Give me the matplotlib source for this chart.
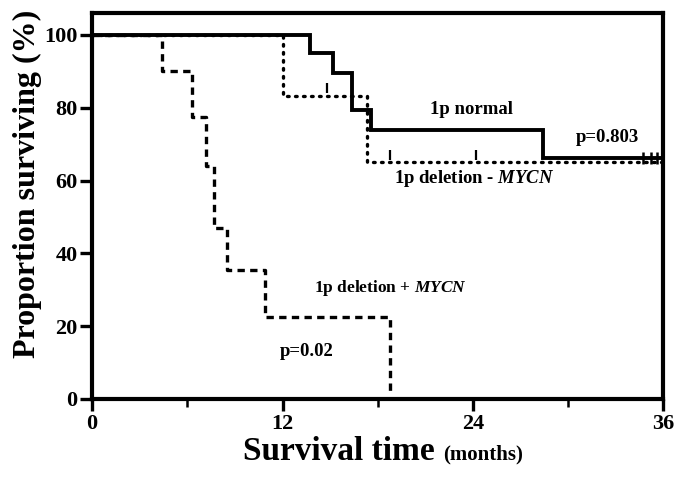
import numpy as np
import matplotlib.pyplot as plt

plt.rcParams['font.family'] = 'Liberation Serif'
plt.rcParams['font.weight'] = 'bold'
plt.rcParams['mathtext.fontset'] = 'custom'
plt.rcParams['mathtext.it'] = 'Liberation Serif:italic:bold'

# 1p normal
norm_t = [0, 13.7, 15.2, 16.4, 17.6, 28.4, 36]
norm_s = [100, 95, 89.6, 79.4, 73.8, 66.3, 66.3]
norm_cens_t = [34.7, 35.2, 35.6, 36.0]
norm_cens_s = [66.3, 66.3, 66.3, 66.3]

# 1p deletion - MYCN
delm_t = [0, 12.0, 17.3, 36]
delm_s = [100, 83.3, 65.0, 65.0]
delm_cens_t = [14.8, 18.8, 24.2]
delm_cens_s = [83.3, 65.0, 65.0]

# 1p deletion + MYCN
delp_t = [0, 4.4, 6.3, 7.2, 7.7, 8.5, 10.9, 18.8]
delp_s = [100, 90, 77.5, 64, 47, 35.4, 22.5, 2]

fig = plt.figure(figsize=(6.77, 4.83), dpi=100)
ax = fig.add_axes([0.136, 0.174, 0.844, 0.799])

ax.step(norm_t, norm_s, where='post', color='black', lw=2.8, solid_joinstyle='miter')
ax.step(delm_t, delm_s, where='post', color='black', lw=2.4, linestyle=(0, (0.5, 1.9)), dash_capstyle='round')
ax.step(delp_t, delp_s, where='post', color='black', lw=2.4, linestyle=(0, (2.2, 1.6)))

ax.plot(norm_cens_t, np.array(norm_cens_s), linestyle='none', marker='|', ms=9, mew=1.8, color='black')
ax.plot(delm_cens_t, np.array(delm_cens_s) + 2, linestyle='none', marker='|', ms=7, mew=1.6, color='black')

fs = 13.5
ax.text(23.9, 79.4, '1p normal', ha='center', va='center', fontsize=fs)
ax.text(32.5, 71.7, 'p=0.803', ha='center', va='center', fontsize=fs)
ax.text(24.1, 60.5, '1p deletion - $\\mathit{MYCN}$', ha='center', va='center', fontsize=fs)
ax.text(18.8, 30.5, '1p deletion + $\\mathit{MYCN}$', ha='center', va='center', fontsize=12.5)
ax.text(13.5, 13, 'p=0.02', ha='center', va='center', fontsize=fs)

ax.set_xlim(0, 36)
ax.set_ylim(0, 106)
ax.set_xticks([0, 12, 24, 36])
ax.set_xticks([6, 18, 30], minor=True)
ax.set_yticks([0, 20, 40, 60, 80, 100])
ax.tick_params(axis='both', which='major', direction='out', length=8.5, width=2.4, labelsize=16, pad=2)
ax.tick_params(axis='x', which='minor', direction='out', length=6, width=1.8)
for s in ax.spines.values():
    s.set_linewidth(3)

ax.set_ylabel('Proportion surviving (%)', fontsize=23, fontweight='bold')
ax.yaxis.set_label_coords(-0.088, 0.557)
fig.text(243 / 677, 0.048, 'Survival time', ha='left', va='baseline', fontsize=24, fontweight='bold')
fig.text(443 / 677, 0.048, '(months)', ha='left', va='baseline', fontsize=15, fontweight='bold')

fig.savefig('out.png', dpi=100)
